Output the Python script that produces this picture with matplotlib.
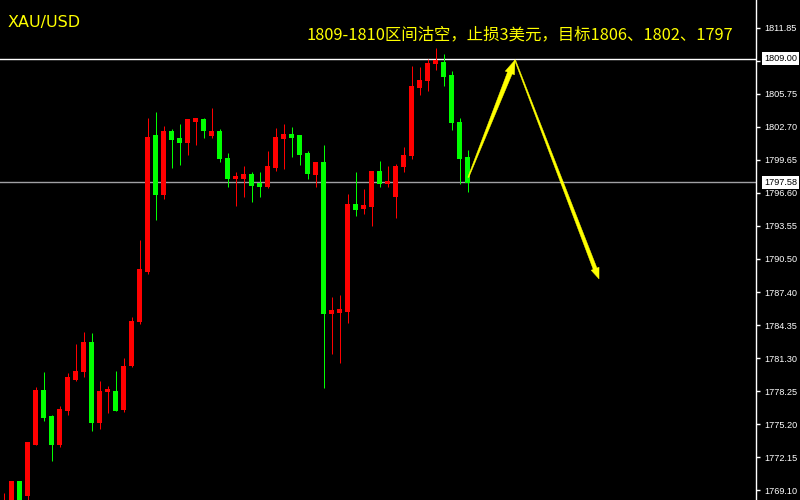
import matplotlib

matplotlib.use("Agg")
import matplotlib.pyplot as plt  # noqa: E402
import numpy as np  # noqa: E402
from matplotlib.patches import Polygon  # noqa: E402
from matplotlib.transforms import IdentityTransform  # noqa: E402

# XAU/USD bars, left to right
OPENS = [1766.80, 1767.00, 1769.87, 1768.64, 1773.36, 1778.35, 1775.89, 1773.36,
         1776.50, 1779.37, 1780.05, 1782.73, 1775.33, 1778.20, 1778.26, 1776.59,
         1780.60, 1784.68, 1789.36, 1801.86, 1796.40, 1802.32, 1801.58, 1801.30,
         1803.24, 1803.34, 1801.86, 1802.32, 1799.82, 1797.88, 1797.97, 1798.25,
         1797.42, 1797.14, 1798.90, 1801.67, 1802.04, 1801.86, 1800.28, 1798.34,
         1799.45, 1785.48, 1785.57, 1785.66, 1795.56, 1795.19, 1795.38, 1798.53,
         1797.42, 1796.30, 1798.99, 1800.01, 1806.39, 1806.95, 1808.61, 1808.70,
         1807.50, 1803.15, 1799.91]
HIGHS = [1768.85, 1769.93, 1769.96, 1773.55, 1778.60, 1780.05, 1776.04, 1776.87,
         1779.96, 1782.61, 1783.72, 1783.63, 1779.19, 1778.72, 1780.11, 1781.31,
         1785.11, 1792.23, 1803.55, 1804.08, 1802.78, 1802.50, 1802.97, 1803.40,
         1803.52, 1803.52, 1804.45, 1802.50, 1800.28, 1798.53, 1799.08, 1798.53,
         1798.53, 1800.47, 1802.60, 1802.97, 1802.69, 1801.90, 1800.47, 1799.45,
         1801.02, 1786.96, 1787.14, 1796.49, 1798.53, 1796.95, 1798.62, 1799.54,
         1799.08, 1799.27, 1800.84, 1808.33, 1808.24, 1808.98, 1810.00, 1809.44,
         1807.87, 1803.52, 1800.56]
LOWS = [1766.00, 1766.50, 1766.80, 1768.00, 1773.30, 1775.52, 1771.81, 1773.11,
        1776.04, 1779.19, 1779.56, 1774.59, 1774.78, 1776.26, 1776.44, 1776.32,
        1780.48, 1784.49, 1789.09, 1794.08, 1796.03, 1798.90, 1799.17, 1800.10,
        1801.02, 1801.67, 1801.67, 1799.45, 1797.14, 1795.38, 1796.21, 1795.75,
        1796.21, 1797.05, 1798.62, 1798.80, 1799.91, 1799.17, 1797.88, 1797.14,
        1778.54, 1781.69, 1780.85, 1784.55, 1794.45, 1794.64, 1793.53, 1797.14,
        1797.14, 1794.27, 1798.53, 1799.73, 1805.65, 1806.02, 1807.96, 1806.48,
        1802.41, 1797.42, 1796.67]
CLOSES = [1768.00, 1769.87, 1767.30, 1773.48, 1778.35, 1775.79, 1773.36, 1776.59,
          1779.56, 1780.11, 1782.73, 1775.33, 1778.26, 1778.30, 1776.50, 1780.57,
          1784.74, 1789.46, 1801.70, 1796.40, 1802.32, 1801.49, 1801.30, 1803.34,
          1803.43, 1802.32, 1802.32, 1799.82, 1797.88, 1798.06, 1798.25, 1797.32,
          1797.14, 1798.99, 1801.76, 1802.04, 1801.76, 1800.19, 1798.43, 1799.36,
          1785.48, 1785.66, 1785.76, 1795.56, 1795.10, 1795.47, 1798.53, 1797.42,
          1797.60, 1798.99, 1800.01, 1806.48, 1806.95, 1808.61, 1808.80, 1807.32,
          1803.15, 1799.73, 1797.58]

PRICE_TICKS = [1811.85, 1808.80, 1805.75, 1802.70, 1799.65, 1796.60, 1793.55,
               1790.50, 1787.40, 1784.35, 1781.30, 1778.25, 1775.20, 1772.15,
               1769.10]
Y_RANGE = (1768.18, 1814.44)
X_RANGE = (-0.4375, 94.0625)

# price lines with boxed labels on the axis
LEVELS = [1809.00, 1797.58]
LEVEL_COLORS = ["#ffffff", "#a0a0a4"]

# hand-drawn forecast path: bar position, price
PATH_X = [58.1, 63.94, 74.44]
PATH_Y = [1798.03, 1808.89, 1788.63]

SYMBOL = "XAU/USD"
NOTE = "1809-1810区间沽空，止损3美元，目标1806、1802、1797"

UP = "#ff0000"
DOWN = "#00ff00"
YELLOW = "#ffff00"


def tapered_arrow(ax, p0, p1, w0, w1, head_w, head_len, color):
    """Arrow that widens from tail (w0 px) to head base (w1 px)."""
    a = ax.transData.transform(p0)
    b = ax.transData.transform(p1)
    d = b - a
    u = d / np.hypot(*d)
    n = np.array([-u[1], u[0]])
    base = b - u * head_len
    pts = [
        a + n * w0 / 2,
        base + n * w1 / 2,
        base + n * head_w / 2,
        b,
        base - n * head_w / 2,
        base - n * w1 / 2,
        a - n * w0 / 2,
    ]
    poly = Polygon(pts, closed=True, facecolor=color, edgecolor=color,
                   linewidth=0.3, transform=IdentityTransform(), zorder=6)
    ax.figure.add_artist(poly)


def main():
    fig = plt.figure(figsize=(8, 5), dpi=100, facecolor="black")
    ax = fig.add_axes([0, 0, 756 / 800, 1])
    ax.set_facecolor("black")
    ax.set_xlim(*X_RANGE)
    ax.set_ylim(*Y_RANGE)

    o = np.array(OPENS)
    h = np.array(HIGHS)
    lo = np.array(LOWS)
    c = np.array(CLOSES)
    x = np.arange(len(o))
    colors = np.where(c >= o, UP, DOWN)

    # wicks sit on pixel centres (3.5 + 8 px per bar), so 1 px stays crisp
    ax.vlines(x, lo, h, colors=colors, linewidth=0.72, zorder=3)
    bottom = np.minimum(o, c)
    height = np.maximum(np.abs(c - o), 0.2)
    bars = ax.bar(x, height, bottom=bottom, width=0.625, color=colors,
                  linewidth=0, zorder=4)
    for b in bars:
        b.set_antialiased(False)
        b.set_snap(False)

    for level, col in zip(LEVELS, LEVEL_COLORS):
        ax.axhline(level, color=col, linewidth=1.0, zorder=2)

    # right price scale
    for side in ("top", "left", "bottom"):
        ax.spines[side].set_visible(False)
    ax.spines["right"].set_color("white")
    ax.spines["right"].set_linewidth(1.0)
    ax.set_xticks([])
    ax.yaxis.tick_right()
    ax.set_yticks(PRICE_TICKS)
    ax.set_yticklabels([f"{t:.2f}" for t in PRICE_TICKS],
                       fontsize=6.6, family="Liberation Sans", color="white")
    ax.tick_params(axis="y", colors="white", length=3, width=1, pad=3)

    for level in LEVELS:
        ax.annotate(f"{level:.2f}", xy=(1, level),
                    xycoords=("axes fraction", "data"),
                    xytext=(6, 0), textcoords="offset points",
                    ha="left", va="center", fontsize=6.6,
                    family="Liberation Sans", color="black",
                    bbox=dict(boxstyle="square,pad=0.22", fc="white", ec="none"),
                    annotation_clip=False, zorder=10)

    fig.text(8 / 800, 1 - 23 / 500, SYMBOL, color=YELLOW, fontsize=11.5,
             ha="left", va="center", family="DejaVu Sans")
    fig.text(306 / 800, 1 - 35 / 500, NOTE, color=YELLOW, fontsize=11.8,
             ha="left", va="center", family=["Noto Sans CJK SC", "DejaVu Sans"])

    pts = list(zip(PATH_X, PATH_Y))
    tapered_arrow(ax, pts[0], pts[1], 1.0, 5.0, 10.0, 14.0, YELLOW)
    tapered_arrow(ax, pts[1], pts[2], 1.0, 4.0, 8.5, 11.0, YELLOW)

    fig.savefig("out.png", dpi=100, facecolor="black")
    plt.close(fig)


if __name__ == "__main__":
    main()
